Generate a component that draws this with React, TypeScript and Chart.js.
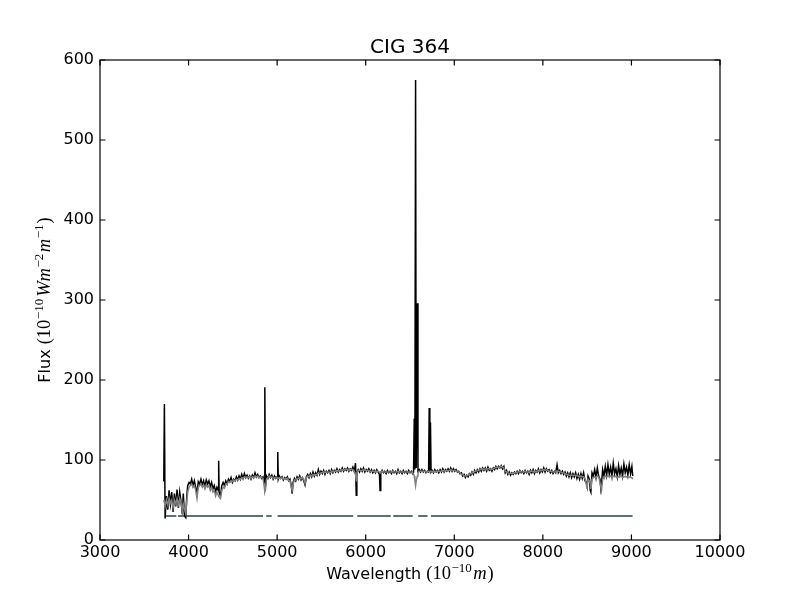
import React, { useEffect, useRef } from "react";
import { Chart, registerables } from "chart.js";

Chart.register(...registerables);

const titleText = "CIG 364";
const xTicks = [3000, 4000, 5000, 6000, 7000, 8000, 9000, 10000];
const yTicks = [0, 100, 200, 300, 400, 500, 600];

const wavelength = [
  3720, 3727, 3735, 3750, 3765, 3780, 3795, 3810, 3825, 3840,
  3855, 3870, 3885, 3900, 3915, 3930, 3940, 3955, 3968, 3980,
  3990, 4005, 4020, 4035, 4050, 4065, 4080, 4095, 4110, 4125,
  4140, 4155, 4170, 4185, 4200, 4215, 4230, 4245, 4260, 4275,
  4290, 4305, 4320, 4335, 4340, 4345, 4360, 4375, 4390, 4405,
  4420, 4435, 4450, 4465, 4480, 4495, 4510, 4525, 4540, 4555,
  4570, 4585, 4600, 4615, 4630, 4645, 4660, 4675, 4690, 4705,
  4720, 4735, 4750, 4765, 4780, 4795, 4810, 4825, 4840, 4855,
  4861, 4867, 4880, 4895, 4910, 4925, 4940, 4955, 4970, 4985,
  5000, 5007, 5013, 5025, 5040, 5055, 5070, 5085, 5100, 5115,
  5130, 5145, 5160, 5170, 5180, 5195, 5210, 5225, 5240, 5255,
  5270, 5285, 5300, 5315, 5330, 5345, 5360, 5375, 5390, 5405,
  5420, 5435, 5450, 5465, 5480, 5495, 5510, 5525, 5540, 5555,
  5570, 5585, 5600, 5615, 5630, 5645, 5660, 5675, 5690, 5705,
  5720, 5735, 5750, 5765, 5780, 5795, 5810, 5825, 5840, 5855,
  5870, 5885, 5893, 5900, 5915, 5930, 5945, 5960, 5975, 5990,
  6005, 6020, 6035, 6050, 6065, 6080, 6095, 6110, 6125, 6140,
  6155, 6162, 6170, 6185, 6200, 6215, 6230, 6245, 6260, 6275,
  6290, 6305, 6320, 6335, 6350, 6365, 6380, 6395, 6410, 6425,
  6440, 6455, 6470, 6485, 6500, 6515, 6530, 6540, 6548, 6555,
  6563, 6570, 6583, 6590, 6605, 6620, 6635, 6650, 6665, 6680,
  6695, 6710, 6717, 6724, 6731, 6738, 6750, 6765, 6780, 6795,
  6810, 6825, 6840, 6855, 6870, 6885, 6900, 6915, 6930, 6945,
  6960, 6975, 6990, 7005, 7020, 7035, 7050, 7065, 7080, 7095,
  7110, 7125, 7140, 7155, 7170, 7185, 7200, 7215, 7230, 7245,
  7260, 7275, 7290, 7305, 7320, 7335, 7350, 7365, 7380, 7395,
  7410, 7425, 7440, 7455, 7470, 7485, 7500, 7515, 7530, 7545,
  7560, 7575, 7590, 7605, 7620, 7635, 7650, 7665, 7680, 7695,
  7710, 7725, 7740, 7755, 7770, 7785, 7800, 7815, 7830, 7845,
  7860, 7875, 7890, 7905, 7920, 7935, 7950, 7965, 7980, 7995,
  8010, 8025, 8040, 8055, 8070, 8085, 8100, 8115, 8130, 8145,
  8160, 8175, 8190, 8205, 8220, 8235, 8250, 8265, 8280, 8295,
  8310, 8325, 8340, 8355, 8370, 8385, 8400, 8415, 8430, 8445,
  8460, 8475, 8490, 8498, 8510, 8525, 8535, 8542, 8555, 8570,
  8585, 8600, 8615, 8630, 8645, 8655, 8662, 8675, 8690, 8705,
  8720, 8735, 8750, 8765, 8780, 8795, 8810, 8825, 8840, 8855,
  8870, 8885, 8900, 8915, 8930, 8945, 8960, 8975, 8990, 9005,
  9015,
];

const observedFlux = [
  73, 170, 27, 55, 38, 62, 45, 60, 35, 58,
  42, 63, 40, 60, 48, 32, 58, 30, 28, 55,
  68, 72, 70, 76, 68, 74, 66, 58, 73, 70,
  76, 69, 74, 67, 75, 70, 74, 66, 72, 64,
  68, 60, 66, 62, 99, 60, 55, 68, 72, 68,
  74, 70, 76, 73, 78, 72, 76, 74, 79, 75,
  80, 76, 82, 77, 83, 78, 81, 77, 80, 76,
  81, 78, 84, 79, 82, 78, 80, 77, 79, 72,
  191, 66, 80, 77, 82, 78, 81, 76, 80, 77,
  79, 110, 76, 80, 77, 79, 75, 78, 76, 79,
  74, 76, 68, 58, 72, 77, 74, 79, 76, 80,
  75, 78, 74, 69, 79, 82, 78, 83, 79, 85,
  80, 84, 81, 88, 82, 86, 83, 87, 82, 86,
  84, 87, 83, 88, 84, 87, 85, 89, 85, 88,
  86, 90, 86, 89, 87, 90, 86, 89, 87, 91,
  86, 96, 56, 84, 88, 85, 89, 86, 90, 85,
  88, 86, 89, 85, 88, 84, 87, 84, 88, 85,
  82, 62, 84, 87, 84, 86, 83, 87, 84, 86,
  83, 87, 84, 86, 83, 88, 84, 86, 83, 87,
  84, 86, 83, 87, 84, 86, 83, 85, 152, 88,
  575, 90, 296, 86, 88, 85, 88, 85, 87, 84,
  86, 85, 165, 86, 147, 85, 87, 84, 88, 85,
  87, 84, 88, 85, 89, 85, 88, 86, 89, 86,
  90, 86, 89, 86, 88, 85, 86, 83, 84, 80,
  82, 78, 81, 79, 83, 81, 85, 82, 87, 84,
  88, 85, 89, 86, 90, 87, 90, 86, 91, 87,
  89, 86, 90, 88, 92, 89, 92, 90, 93, 89,
  92, 84, 87, 82, 85, 81, 84, 82, 85, 83,
  86, 83, 87, 84, 86, 83, 87, 84, 86, 82,
  87, 84, 88, 83, 87, 85, 89, 84, 88, 85,
  90, 85, 89, 86, 88, 84, 87, 83, 86, 84,
  94, 84, 87, 83, 86, 82, 85, 80, 84, 79,
  84, 78, 83, 79, 84, 77, 82, 76, 83, 77,
  84, 74, 72, 68, 80, 76, 62, 60, 84, 80,
  88, 78, 90, 80, 76, 64, 70, 88, 80, 92,
  81, 94, 82, 91, 80, 96, 83, 89, 79, 93,
  82, 90, 80, 95, 84, 91, 81, 94, 83, 92,
  80,
];

const modelFlux = [
  50, 47, 42, 50, 44, 52, 46, 50, 40, 50,
  45, 52, 44, 52, 47, 36, 45, 38, 33, 48,
  60, 66, 68, 70, 66, 68, 62, 52, 66, 68,
  70, 66, 69, 64, 69, 66, 68, 62, 66, 60,
  62, 55, 60, 56, 55, 54, 52, 62, 66, 65,
  70, 70, 73, 72, 74, 73, 75, 74, 76, 75,
  77, 76, 78, 77, 79, 78, 79, 78, 79, 77,
  79, 78, 80, 79, 80, 78, 79, 78, 77, 66,
  60, 62, 76, 78, 80, 78, 79, 77, 78, 77,
  78, 78, 77, 78, 77, 78, 76, 77, 76, 77,
  74, 74, 66, 62, 70, 75, 75, 77, 77, 78,
  76, 78, 76, 71, 78, 80, 79, 81, 80, 82,
  81, 82, 82, 84, 83, 84, 84, 85, 84, 85,
  85, 85, 84, 86, 85, 86, 86, 87, 86, 87,
  87, 88, 87, 88, 88, 88, 87, 88, 88, 88,
  86, 82, 74, 84, 87, 87, 87, 87, 88, 87,
  87, 87, 87, 86, 86, 86, 86, 85, 86, 86,
  85, 84, 85, 86, 85, 85, 85, 85, 85, 85,
  85, 86, 85, 85, 85, 86, 85, 85, 85, 85,
  85, 85, 85, 85, 85, 85, 84, 82, 80, 74,
  68, 74, 80, 84, 86, 86, 86, 86, 86, 85,
  85, 86, 86, 86, 86, 86, 86, 85, 86, 86,
  86, 86, 86, 86, 87, 86, 87, 87, 87, 87,
  88, 87, 87, 87, 86, 86, 85, 84, 82, 82,
  80, 80, 80, 81, 82, 83, 84, 84, 86, 86,
  87, 87, 88, 88, 89, 88, 89, 88, 89, 89,
  88, 88, 89, 90, 91, 91, 91, 91, 92, 91,
  90, 86, 85, 84, 83, 83, 83, 83, 84, 84,
  85, 85, 86, 85, 85, 85, 86, 85, 85, 84,
  86, 86, 86, 85, 86, 86, 87, 86, 87, 87,
  88, 87, 88, 87, 86, 86, 86, 85, 85, 85,
  86, 86, 85, 85, 84, 84, 83, 82, 82, 81,
  81, 81, 81, 81, 81, 80, 80, 79, 80, 79,
  79, 77, 70, 64, 76, 74, 70, 64, 76, 78,
  79, 78, 80, 79, 72, 66, 62, 76, 78, 80,
  79, 80, 79, 80, 79, 80, 79, 80, 78, 79,
  79, 80, 78, 79, 79, 79, 78, 79, 78, 78,
  76,
];

const maskLevel = 30;
const maskStart = [3737, 3880, 4877, 5005, 5905, 6311, 6593, 6736];
const maskEnd = [3862, 4840, 4938, 5860, 6282, 6530, 6698, 9013];

const SANS = '"DejaVu Sans", sans-serif';
const SERIF = '"Liberation Serif", "DejaVu Serif", serif';

type Run = { text: string; font: string; dy?: number; gap?: number };

function drawRuns(ctx: CanvasRenderingContext2D, runs: Run[], cx: number, baseline: number) {
  let total = 0;
  const widths = runs.map((r) => {
    ctx.font = r.font;
    const w = ctx.measureText(r.text).width + (r.gap || 0);
    total += w;
    return w;
  });
  let x = cx - total / 2;
  ctx.textAlign = "left";
  ctx.textBaseline = "alphabetic";
  runs.forEach((r, i) => {
    ctx.font = r.font;
    ctx.fillText(r.text, x + (r.gap || 0), baseline + (r.dy || 0));
    x += widths[i];
  });
}

const MATH = `18.5px ${SERIF}`;
const MATHI = `italic 18.5px ${SERIF}`;
const SUP = `13px ${SERIF}`;

const xLabelRuns: Run[] = [
  { text: "Wavelength ", font: `16px ${SANS}` },
  { text: "(10", font: MATH },
  { text: "\u221210", font: SUP, dy: -7.5, gap: 0.5 },
  { text: "m", font: MATHI, gap: 1.5 },
  { text: ")", font: MATH, gap: 1 },
];

const yLabelRuns: Run[] = [
  { text: "Flux ", font: `16px ${SANS}` },
  { text: "(10", font: MATH },
  { text: "\u221210", font: SUP, dy: -7.5, gap: 0.5 },
  { text: "Wm", font: MATHI, gap: 2 },
  { text: "\u22122", font: SUP, dy: -7.5, gap: 0.5 },
  { text: "m", font: MATHI, gap: 1.5 },
  { text: "\u22121", font: SUP, dy: -7.5, gap: 0.5 },
  { text: ")", font: MATH, gap: 1 },
];

const decorPlugin = {
  id: "decor",
  afterDraw(chart: any) {
    const { ctx, chartArea: a, scales } = chart;
    ctx.save();
    ctx.strokeStyle = "#000";
    ctx.lineWidth = 1.2;
    ctx.strokeRect(a.left, a.top, a.right - a.left, a.bottom - a.top);
    const L = 5.5;
    ctx.beginPath();
    xTicks.forEach((v) => {
      const px = scales.x.getPixelForValue(v);
      ctx.moveTo(px, a.bottom);
      ctx.lineTo(px, a.bottom - L);
      ctx.moveTo(px, a.top);
      ctx.lineTo(px, a.top + L);
    });
    yTicks.forEach((v) => {
      const py = scales.y.getPixelForValue(v);
      ctx.moveTo(a.left, py);
      ctx.lineTo(a.left + L, py);
      ctx.moveTo(a.right, py);
      ctx.lineTo(a.right - L, py);
    });
    ctx.stroke();

    ctx.fillStyle = "#000";
    const cx = (a.left + a.right) / 2;
    ctx.font = `20px ${SANS}`;
    ctx.textAlign = "center";
    ctx.textBaseline = "alphabetic";
    ctx.fillText(titleText, cx, a.top - 7);

    drawRuns(ctx, xLabelRuns, cx, a.bottom + 39);

    ctx.translate(a.left - 50, (a.top + a.bottom) / 2);
    ctx.rotate(-Math.PI / 2);
    drawRuns(ctx, yLabelRuns, 0, 0);
    ctx.restore();
  },
};

export default function App() {
  const canvasRef = useRef<HTMLCanvasElement | null>(null);

  useEffect(() => {
    document.body.style.margin = "0";
    const canvas = canvasRef.current;
    if (!canvas) return;

    const observed = wavelength.map((w, i) => ({ x: w, y: observedFlux[i] }));
    const model = wavelength.map((w, i) => ({ x: w, y: modelFlux[i] }));
    const mask: { x: number; y: number | null }[] = [];
    maskStart.forEach((s, i) => {
      mask.push({ x: s, y: maskLevel });
      mask.push({ x: maskEnd[i], y: maskLevel });
      mask.push({ x: maskEnd[i], y: null });
    });

    const tickFont = { family: SANS, size: 16 };

    const chart = new Chart(canvas, {
      type: "line",
      data: {
        datasets: [
          {
            data: model as any,
            borderColor: "#808080",
            borderWidth: 1.5,
            pointRadius: 0,
            tension: 0,
            order: 0,
          },
          {
            data: observed as any,
            borderColor: "#000000",
            borderWidth: 1.5,
            pointRadius: 0,
            tension: 0,
            order: 1,
          },
          {
            data: mask as any,
            borderColor: "#5f7070",
            borderWidth: 2,
            pointRadius: 0,
            tension: 0,
            spanGaps: false,
            order: 2,
          },
        ],
      },
      options: {
        animation: false,
        responsive: false,
        layout: { padding: { top: 60, right: 80, left: 0, bottom: 0 } },
        plugins: {
          legend: { display: false },
          tooltip: { enabled: false },
          title: { display: false },
        },
        scales: {
          x: {
            type: "linear",
            min: 3000,
            max: 10000,
            grid: { display: false, drawTicks: false },
            border: { display: false },
            afterBuildTicks: (s: any) => {
              s.ticks = xTicks.map((v) => ({ value: v }));
            },
            afterFit: (s: any) => {
              s.height = 60;
            },
            ticks: {
              font: tickFont,
              color: "#000",
              padding: 3,
              maxRotation: 0,
              autoSkip: false,
              callback: (v: any) => String(v),
            },
          },
          y: {
            type: "linear",
            min: 0,
            max: 600,
            grid: { display: false, drawTicks: false },
            border: { display: false },
            afterBuildTicks: (s: any) => {
              s.ticks = yTicks.map((v) => ({ value: v }));
            },
            afterFit: (s: any) => {
              s.width = 100;
            },
            ticks: {
              font: tickFont,
              color: "#000",
              padding: 6,
              autoSkip: false,
              callback: (v: any) => String(v),
            },
          },
        },
      },
      plugins: [decorPlugin],
    });

    return () => chart.destroy();
  }, []);

  return (
    <div style={{ position: "absolute", left: 0, top: 0, width: 800, height: 600, background: "#fff" }}>
      <canvas ref={canvasRef} width={800} height={600} style={{ display: "block", width: 800, height: 600 }} />
    </div>
  );
}
